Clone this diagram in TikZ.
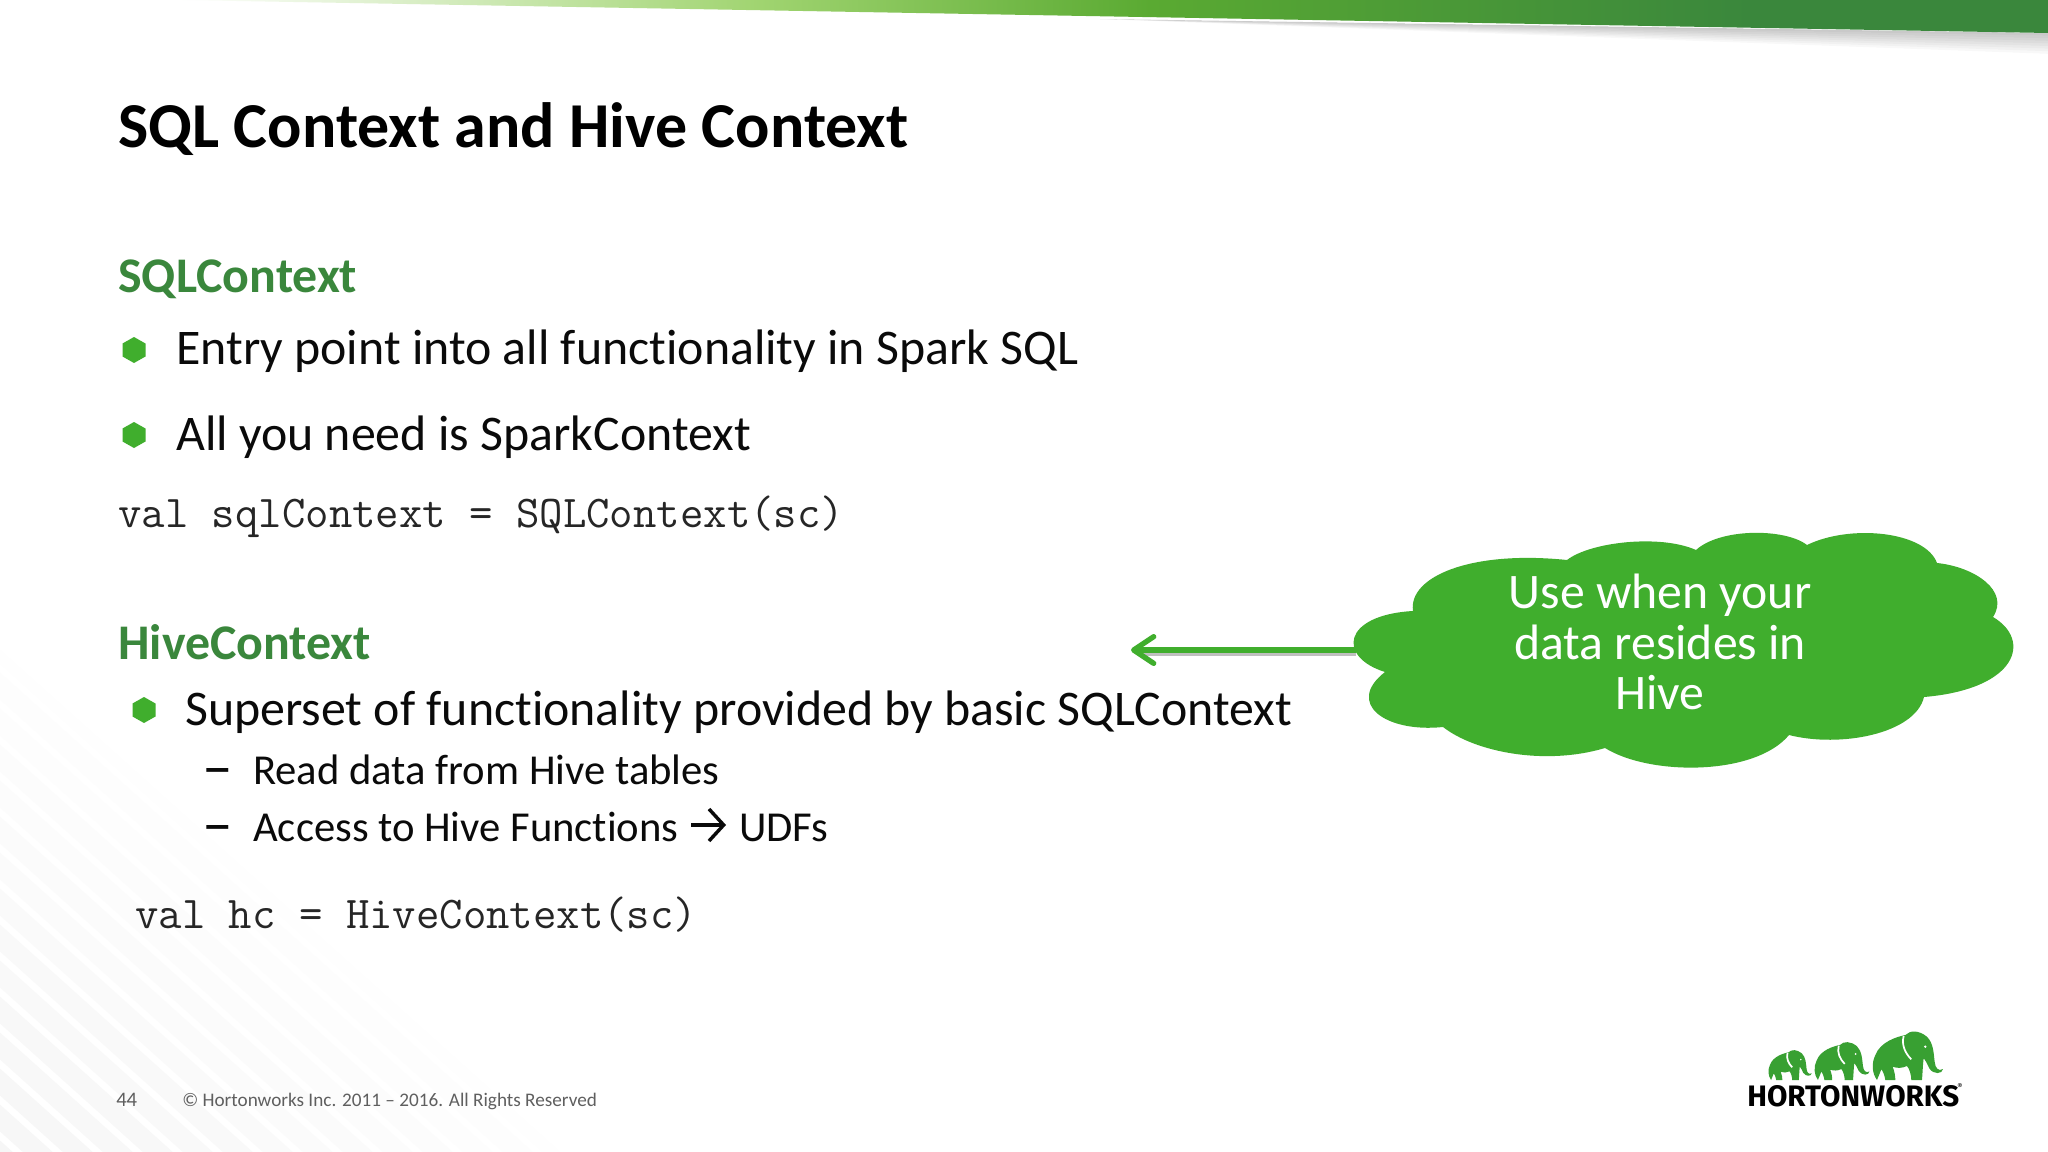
\documentclass[tikz,border=0pt]{standalone}
\usepackage{fontspec}
\setmainfont[Ligatures=NoCommon]{Carlito}
\newfontfamily\logofont{Fira Sans}
\usetikzlibrary{arrows.meta}
\definecolor{hwgreen}{RGB}{64,174,45}
\definecolor{headgreen}{RGB}{58,135,60}
\definecolor{textblack}{RGB}{10,10,10}
\definecolor{footgray}{RGB}{95,95,95}
\definecolor{bandlight}{RGB}{160,212,112}
\definecolor{bandmid}{RGB}{90,170,50}
\definecolor{logogreen}{RGB}{56,160,50}
\newcommand{\elephantshape}{%
  \fill[logogreen] (15,0) .. controls (0,-20) and (-2,-50) .. (10,-75)
    .. controls (25,-115) and (75,-130) .. (100,-135)
    .. controls (115,-150) and (140,-150) .. (165,-130)
    .. controls (185,-110) and (185,-80) .. (188,-55)
    .. controls (190,-35) and (200,-25) .. (213,-33)
    .. controls (212,-18) and (185,-15) .. (172,-35)
    .. controls (165,-50) and (160,-60) .. (155,-65)
    .. controls (152,-40) and (152,-20) .. (150,0) -- (118,0)
    .. controls (118,-15) and (112,-35) .. (105,-42)
    .. controls (90,-35) and (75,-35) .. (62,-40)
    .. controls (68,-25) and (70,-10) .. (70,0) -- (40,0)
    .. controls (38,-15) and (32,-28) .. (28,-32) -- cycle;
  \draw[white,line width=1.3] (95,-132) .. controls (88,-105) and (100,-80) .. (118,-62);
  \fill[white] (160,-100) circle (4);
}
\tikzset{
  heading/.style={anchor=base west,inner sep=0pt,font=\fontsize{37.4}{37.4}\selectfont\bfseries,text=headgreen},
  bodytext/.style={anchor=base west,inner sep=0pt,font=\fontsize{37.4}{37.4}\selectfont,text=textblack},
  subtext/.style={anchor=base west,inner sep=0pt,font=\fontsize{32}{32}\selectfont,text=textblack},
  dashtext/.style={anchor=base west,inner sep=0pt,font=\fontsize{46}{46}\selectfont,text=textblack},
  codetext/.style={anchor=base west,inner sep=0pt,font=\fontsize{34.1}{34.1}\selectfont\ttfamily,text=black!85},
  foottext/.style={anchor=base west,inner sep=0pt,font=\fontsize{14.4}{14.4}\selectfont,text=footgray},
  hexbullet/.pic={\fill[hwgreen] (0,-13) -- (11.5,-6.5) -- (11.5,6.5) -- (0,13) -- (-11.5,6.5) -- (-11.5,-6.5) -- cycle;}
}
\begin{document}
\begin{tikzpicture}[x=0.75pt,y=0.75pt,yscale=-1,xscale=1]
\useasboundingbox (0,0) rectangle (2048,1152);
\fill[white] (0,0) rectangle (2048,1152);

%Background stripes
\begin{scope}
\clip (0,650) -- (0,1152) -- (560,1152) -- cycle;
\foreach \k [evaluate=\k as \c using 0.4+\k*0.22] in {0,...,16}
  \draw[black!\c,line width=15] (-100,560+\k*36) -- (600,1190+\k*36);
\end{scope}

%Top band
\foreach \k in {1,...,8}
  \fill[black,opacity=0.028] (1100,19) -- (2048,33) -- (2048,33+\k*2.6) -- cycle;
\begin{scope}
\clip (180,0) -- (2048,0) -- (2048,33) -- cycle;
\shade[left color=white,right color=bandlight] (180,0) rectangle (760,34);
\shade[left color=bandlight,right color=bandmid] (760,0) rectangle (1150,34);
\shade[left color=bandmid,right color=headgreen] (1150,0) rectangle (1750,34);
\fill[headgreen] (1750,0) rectangle (2048,34);
\end{scope}

%Title
\node[anchor=base west,inner sep=0pt,font=\fontsize{48}{48}\selectfont\bfseries,text=black] (title) at (118,147) {SQL Context and Hive Context};

%SQLContext block
\node[heading] (sqlhead) at (118,292) {SQLContext};
\pic at (134,350) {hexbullet};
\node[bodytext] (sqlone) at (176,364) {Entry point into all functionality in Spark SQL};
\pic at (134,435) {hexbullet};
\node[bodytext] (sqltwo) at (176,450) {All you need is SparkContext};
\node[codetext] (sqlcode) at (118,527) {val sqlContext = SQLContext(sc)};

%HiveContext block
\node[heading] (hivehead) at (118,659) {HiveContext};
\pic at (144,710) {hexbullet};
\node[bodytext] (hiveone) at (185,725) {Superset of functionality provided by basic SQLContext};
\node[dashtext] (dashone) at (202,787) {–};
\node[subtext] (hivetwo) at (253,784) {Read data from Hive tables};
\node[dashtext] (dashtwo) at (202,844) {–};
\node[subtext] (hivethree) at (253,841) {Access to Hive Functions};
\node[subtext] (udfs) at (739,841) {UDFs};
\coordinate (funcarrow) at (691,825);
\coordinate (udfarrow) at (726,825);
\draw[textblack,line width=2.6,-{Straight Barb[length=11,width=24,line width=2.6]}] (funcarrow) -- (udfarrow);
\node[codetext] (hivecode) at (135,928) {val hc = HiveContext(sc)};

%Cloud
\fill[hwgreen] (1413,611) .. controls (1408,577) and (1470,550) .. (1567,560)
  .. controls (1590,542) and (1660,534) .. (1696,550)
  .. controls (1720,528) and (1785,528) .. (1807,545)
  .. controls (1850,524) and (1925,531) .. (1937,563)
  .. controls (1975,567) and (2010,591) .. (1993,617)
  .. controls (2032,640) and (2018,689) .. (1924,697)
  .. controls (1915,734) and (1840,748) .. (1789,735)
  .. controls (1755,776) and (1650,776) .. (1605,748)
  .. controls (1545,766) and (1475,752) .. (1443,727)
  .. controls (1385,733) and (1345,703) .. (1385,672)
  .. controls (1337,657) and (1342,615) .. (1413,611) -- cycle;
\node[align=center,inner sep=0pt,font=\fontsize{37.3}{38}\selectfont,text=white] (cloudtext) at (1660,642) {Use when your\\data resides in\\Hive};

%Arrow
\coordinate (cloudleft) at (1356,650);
\coordinate (arrowend) at (1131,650);
\draw[black!25,line width=3] (1356,654) -- (1140,654);
\draw[hwgreen,line width=4,-{Straight Barb[round,length=15,width=20,line width=4]}] (cloudleft) -- (arrowend);

%Footer
\node[foottext,font=\fontsize{15.5}{15.5}\selectfont] (pagenum) at (116,1106) {44};
\node[foottext] (copyright) at (182,1106) {© Hortonworks Inc. 2011 – 2016. All Rights Reserved};

%Logo
\begin{scope}[shift={(1768,1080)},scale=0.205] \elephantshape \end{scope}
\begin{scope}[shift={(1814,1080)},scale=0.26] \elephantshape \end{scope}
\begin{scope}[shift={(1872,1080)},scale=0.333] \elephantshape \end{scope}
\node[anchor=base west,inner sep=0pt,font=\fontsize{22.2}{22.2}\selectfont\logofont\bfseries,text=black] (logotext) at (1747,1106) {HORTONWORKS};
\node[anchor=west,inner sep=0pt,font=\fontsize{6}{6}\selectfont\logofont,text=black] (logomark) at (1957,1086) {®};
\end{tikzpicture}
\end{document}
